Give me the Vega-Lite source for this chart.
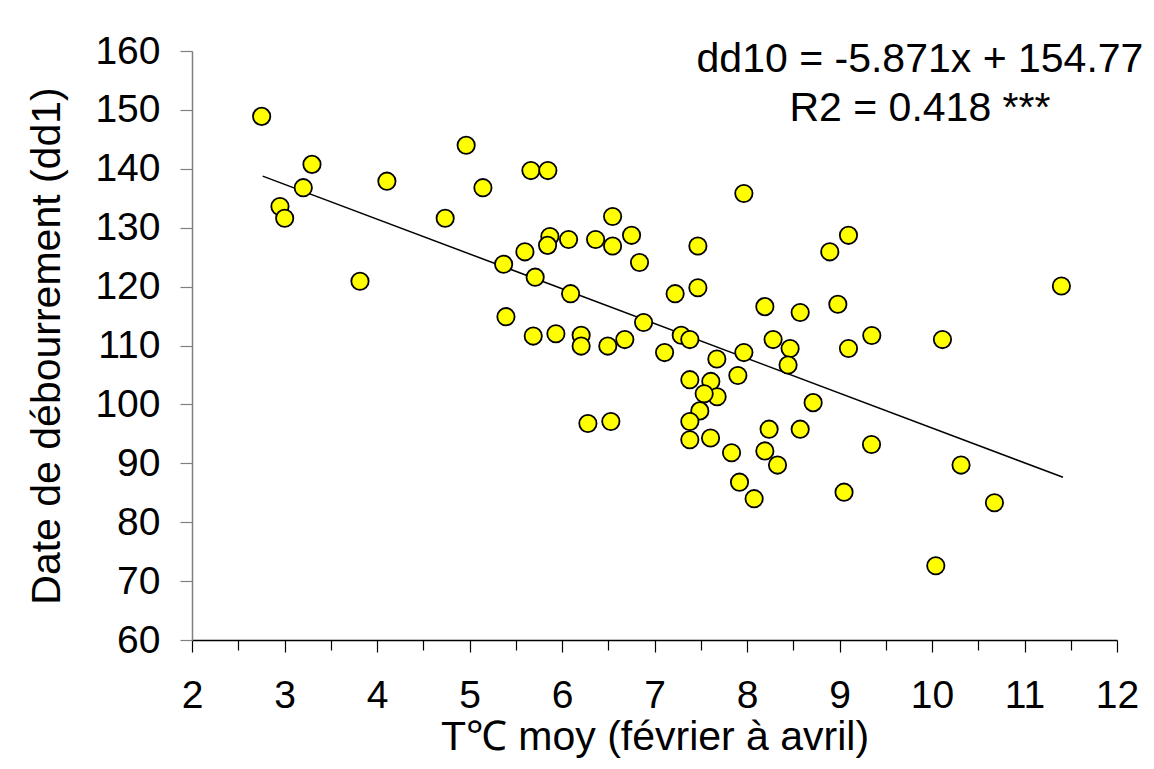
{
  "$schema": "https://vega.github.io/schema/vega-lite/v6.json",
  "autosize": "none",
  "width": 925,
  "height": 589,
  "padding": {"left": 192, "top": 51, "right": 37, "bottom": 129},
  "background": "white",
  "config": {
    "view": {"stroke": null},
    "font": "Liberation Sans",
    "axis": {"grid": false, "labelFont": "Liberation Sans", "titleFont": "Liberation Sans", "labelFontSize": 39, "titleFontSize": 41, "labelColor": "black", "titleColor": "black", "titleFontWeight": "normal"}
  },
  "datasets": {
    "pts": [
      {"t": 2.753, "dd": 148.9}, {"t": 3.297, "dd": 140.75}, {"t": 3.203, "dd": 136.8}, {"t": 2.951, "dd": 133.6},
      {"t": 3.002, "dd": 131.6}, {"t": 4.107, "dd": 137.9}, {"t": 3.816, "dd": 120.9}, {"t": 4.964, "dd": 144.0},
      {"t": 5.145, "dd": 136.8}, {"t": 4.737, "dd": 131.6}, {"t": 5.664, "dd": 139.7}, {"t": 5.847, "dd": 139.7},
      {"t": 6.547, "dd": 131.9}, {"t": 5.869, "dd": 128.5}, {"t": 5.844, "dd": 127.0}, {"t": 6.071, "dd": 128.0},
      {"t": 6.363, "dd": 128.0}, {"t": 6.547, "dd": 126.9}, {"t": 6.752, "dd": 128.7}, {"t": 5.599, "dd": 125.9},
      {"t": 6.838, "dd": 124.1}, {"t": 5.369, "dd": 123.8}, {"t": 5.71, "dd": 121.6}, {"t": 6.093, "dd": 118.8},
      {"t": 6.882, "dd": 113.9}, {"t": 5.394, "dd": 114.9}, {"t": 5.689, "dd": 111.6}, {"t": 5.934, "dd": 112.0},
      {"t": 6.207, "dd": 111.75}, {"t": 6.207, "dd": 109.9}, {"t": 6.495, "dd": 109.9}, {"t": 6.679, "dd": 111.0},
      {"t": 7.966, "dd": 135.8}, {"t": 7.469, "dd": 126.9}, {"t": 9.097, "dd": 128.7}, {"t": 8.895, "dd": 125.9},
      {"t": 11.399, "dd": 120.1}, {"t": 7.223, "dd": 118.8}, {"t": 7.469, "dd": 119.8}, {"t": 8.193, "dd": 116.6},
      {"t": 8.575, "dd": 115.6}, {"t": 8.982, "dd": 117.0}, {"t": 7.289, "dd": 111.75}, {"t": 7.382, "dd": 111.0},
      {"t": 7.109, "dd": 108.8}, {"t": 8.282, "dd": 111.0}, {"t": 8.466, "dd": 109.5}, {"t": 8.444, "dd": 106.7},
      {"t": 9.349, "dd": 111.7}, {"t": 9.097, "dd": 109.5}, {"t": 10.113, "dd": 111.0}, {"t": 7.966, "dd": 108.8},
      {"t": 7.674, "dd": 107.7}, {"t": 7.901, "dd": 104.9}, {"t": 7.382, "dd": 104.2}, {"t": 7.609, "dd": 103.9},
      {"t": 7.677, "dd": 101.3}, {"t": 7.537, "dd": 101.8}, {"t": 8.715, "dd": 100.3}, {"t": 7.49, "dd": 98.9},
      {"t": 7.382, "dd": 97.1}, {"t": 6.528, "dd": 97.1}, {"t": 7.382, "dd": 94.0}, {"t": 7.606, "dd": 94.3},
      {"t": 8.239, "dd": 95.8}, {"t": 8.575, "dd": 95.8}, {"t": 9.346, "dd": 93.2}, {"t": 7.833, "dd": 91.8},
      {"t": 8.193, "dd": 92.1}, {"t": 8.33, "dd": 89.7}, {"t": 10.314, "dd": 89.7}, {"t": 7.919, "dd": 86.8},
      {"t": 8.077, "dd": 84.0}, {"t": 9.049, "dd": 85.1}, {"t": 10.675, "dd": 83.3}, {"t": 10.041, "dd": 72.6},
      {"t": 6.28, "dd": 96.75}
    ],
    "fit": [{"t": 2.764, "dd": 138.76}, {"t": 11.416, "dd": 87.63}],
    "ann": [
      {"t": 9.87, "dd": 156.4, "label": "dd10 = -5.871x + 154.77"},
      {"t": 9.87, "dd": 148.2, "label": "R2 = 0.418 ***"}
    ]
  },
  "layer": [
    {
      "data": {"name": "fit"},
      "mark": {"type": "line", "color": "black", "strokeWidth": 1.5},
      "encoding": {
        "x": {"field": "t", "type": "quantitative", "scale": {"domain": [2, 12], "nice": false, "zero": false},
          "axis": {"values": [2, 2.5, 3, 3.5, 4, 4.5, 5, 5.5, 6, 6.5, 7, 7.5, 8, 8.5, 9, 9.5, 10, 10.5, 11, 11.5, 12],
            "labelExpr": "datum.value % 1 === 0 ? format(datum.value, 'd') : ''",
            "tickSize": {"condition": {"test": "datum.value % 1 === 0", "value": 12}, "value": 10},
            "domainColor": "black", "tickColor": "black", "domainWidth": 1.5, "tickWidth": 1.2,
            "labelPadding": 24, "labelFlush": false, "labelOverlap": false,
            "title": "T℃ moy (février à avril)", "titlePadding": 2}},
        "y": {"field": "dd", "type": "quantitative", "scale": {"domain": [60, 160], "nice": false, "zero": false},
          "axis": {"values": [60, 70, 80, 90, 100, 110, 120, 130, 140, 150, 160], "tickSize": 12,
            "domainColor": "#808080", "tickColor": "#808080", "domainWidth": 1.5, "tickWidth": 1.2,
            "labelPadding": 20, "title": "Date de débourrement (dd1)", "titlePadding": 26}}
      }
    },
    {
      "data": {"name": "pts"},
      "mark": {"type": "point", "shape": "circle", "filled": true, "fill": "#FFFF00", "stroke": "black", "strokeWidth": 1.8, "size": 300, "opacity": 1},
      "encoding": {
        "x": {"field": "t", "type": "quantitative"},
        "y": {"field": "dd", "type": "quantitative"}
      }
    },
    {
      "data": {"name": "ann"},
      "mark": {"type": "text", "fontSize": 41, "font": "Liberation Sans", "align": "center", "baseline": "alphabetic", "color": "black"},
      "encoding": {
        "x": {"field": "t", "type": "quantitative"},
        "y": {"field": "dd", "type": "quantitative"},
        "text": {"field": "label"}
      }
    }
  ]
}
